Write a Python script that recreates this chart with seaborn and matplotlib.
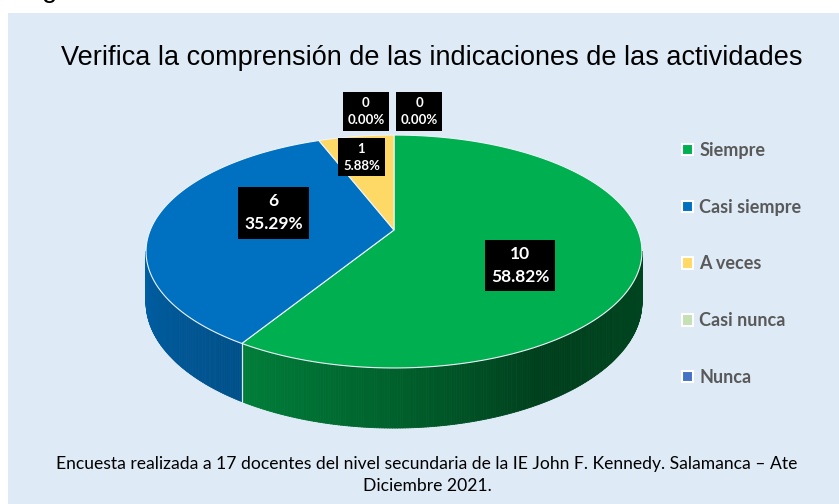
import numpy as np
import matplotlib
matplotlib.use('Agg')
import matplotlib.pyplot as plt
import seaborn as sns
from matplotlib.patches import Polygon, Rectangle, Patch
from matplotlib.collections import PolyCollection

# data
categories = ['Siempre', 'Casi siempre', 'A veces', 'Casi nunca', 'Nunca']
counts = [10, 6, 1, 0, 0]
slice_colors = ['#00b050', '#0070c0', '#ffd966', '#c5e0b4', '#4472c4']
title = 'Verifica la comprensión de las indicaciones de las actividades'
footer = ('Encuesta realizada a 17 docentes del nivel secundaria de la IE John F. Kennedy. Salamanca \u2013 Ate\n'
          'Diciembre 2021.')

sns.set_theme(style='white')
plt.rcParams['font.family'] = ['Lato', 'DejaVu Sans']

W, H = 839, 504
fig = plt.figure(figsize=(W / 100, H / 100), dpi=100)
fig.patch.set_facecolor('white')
ax = fig.add_axes([0, 0, 1, 1])
ax.set_xlim(0, W)
ax.set_ylim(H, 0)
ax.axis('off')

ax.add_patch(Rectangle((8, 13), W - 8, H - 13, facecolor='#deeaf6', edgecolor='none', zorder=0))
# bottom of a cut-off caption above the chart
ax.text(50, -3, 'g', fontsize=20, ha='center', va='baseline', color='black',
        family='Liberation Sans', clip_on=False)

# 3D pie geometry (perspective view of a tilted disc), pixel units
cx, cy = 394, 230
sx, sy, persp = 243.7, 112.5, 0.1846
depth0 = 49


def proj(theta, rho=1.0):
    t = np.radians(theta)
    den = 1 + persp * rho * np.sin(t)
    return cx + rho * sx * np.cos(t) / den, cy - rho * sy * np.sin(t) / den


def side_depth(theta):
    return depth0 / (1 + persp * np.sin(np.radians(theta)))


def shade(theta):
    t = ((theta + 180) % 360) - 180
    return np.interp(t, [-180, -122, -90, -60, -10, 0], [0.88, 0.72, 0.55, 0.36, 0.40, 0.40])


total = sum(counts)
starts, ends = [], []
acc = 0
for c in counts:
    a0 = 90 - acc * 360 / total
    acc += c
    starts.append(a0)
    ends.append(90 - acc * 360 / total)

# side walls
for c, col, a0, a1 in zip(counts, slice_colors, starts, ends):
    if c == 0:
        continue
    th = np.linspace(a0, a1, int(abs(a1 - a0) * 2) + 2)
    base = np.array(matplotlib.colors.to_rgb(col))
    polys, fcs = [], []
    for t1, t2 in zip(th[:-1], th[1:]):
        tm = (t1 + t2) / 2
        if np.sin(np.radians(tm)) >= -persp:
            continue
        x1, y1 = proj(t1)
        x2, y2 = proj(t2)
        polys.append([(x1, y1), (x2, y2), (x2, y2 + side_depth(t2)), (x1, y1 + side_depth(t1))])
        fcs.append(np.clip(base * shade(tm), 0, 1))
    if polys:
        ax.add_collection(PolyCollection(polys, facecolors=fcs, edgecolors=fcs, linewidths=0.6, zorder=2))

# seam lines on the visible wall
for a in starts + ends:
    if np.sin(np.radians(a)) < -persp:
        x, y = proj(a)
        ax.plot([x, x], [y, y + side_depth(a)], color='#dfe8f2', lw=0.8, zorder=3)

# top faces
for c, col, a0, a1 in zip(counts, slice_colors, starts, ends):
    if c == 0:
        continue
    th = np.linspace(a0, a1, 200)
    xs, ys = proj(th)
    pts = [(cx, cy)] + list(zip(xs, ys))
    ax.add_patch(Polygon(pts, closed=True, facecolor=col, edgecolor='#eef3f9', lw=0.8, zorder=4))

# data labels
label_rho = 0.5
label_nudge = [(6, 20), (0, -12), (-12, -22), (-28, -67), (25, -67)]
for c, a0, a1, (nx, ny) in zip(counts, starts, ends, label_nudge):
    mid = (a0 + a1) / 2 if c else 90
    x, y = proj(mid, label_rho)
    big = c / total > 0.2
    ax.text(x + nx, y + ny, f'{c}\n{c / total * 100:.2f}%', ha='center', va='center',
            multialignment='center', color='white', fontweight='bold',
            fontsize=12.5 if big else 9.5, linespacing=1.55 if big else 1.5, zorder=6,
            bbox=dict(boxstyle='square,pad=0.35', fc='black', ec='none'))

# legend
handles = [Patch(facecolor=col, edgecolor='white', linewidth=1.5) for col in slice_colors]
leg = ax.legend(handles, categories, loc='upper left', bbox_to_anchor=(682, 142),
                bbox_transform=ax.transData, frameon=False, handlelength=0.6, handleheight=0.6,
                handletextpad=0.35, labelspacing=2.2, borderpad=0, borderaxespad=0,
                prop={'family': 'Lato', 'weight': 'bold', 'size': 13})
for t in leg.get_texts():
    t.set_color('#595959')

ax.text(432, 58, title, ha='center', va='center', fontsize=19.5, color='black',
        family='Liberation Sans', zorder=6)
ax.text(427, 475, footer, ha='center', va='center', fontsize=12.6, color='black',
        linespacing=1.4, zorder=6)

fig.savefig('out.png', dpi=100, facecolor='white')
